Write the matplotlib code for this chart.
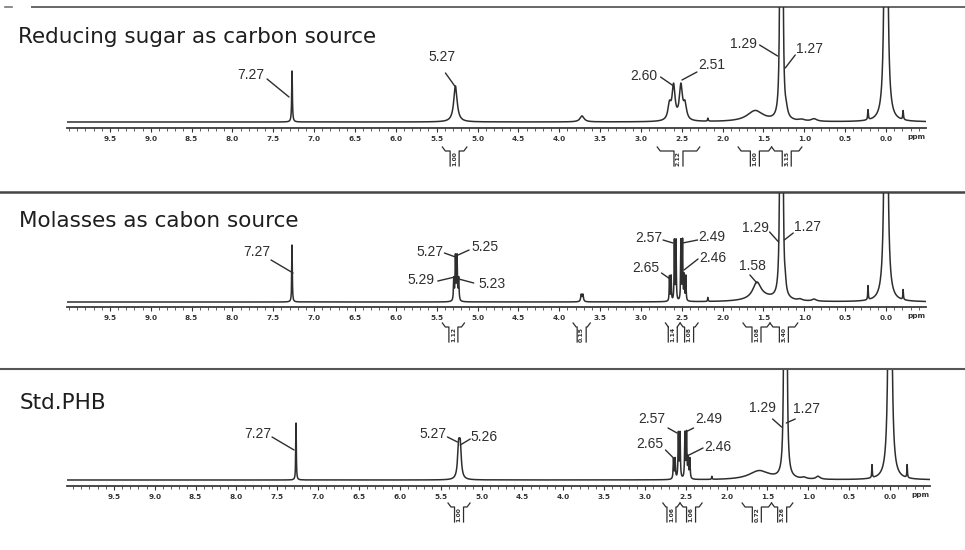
import numpy as np
import matplotlib
matplotlib.use("Agg")
import matplotlib.pyplot as plt
from matplotlib.transforms import offset_copy

# ------------------------------------------------------------------ data
titles = ["Reducing sugar as carbon source", "Molasses as cabon source", "Std.PHB"]

# peak tables: position (ppm), height (px above baseline), half width (ppm)
p1_ppm = [7.27, 5.27, 3.72, 2.65, 2.60, 2.51, 2.46, 2.18, 1.60, 1.29, 1.27, 1.22, 1.03, 0.88, 0.22, 0.00, -0.21]
p1_h = [51, 36, 6, 15, 34, 34, 15, 3, 11, 900, 900, 6, 1.5, 2.5, 10, 1500, 9]
p1_w = [0.005, 0.025, 0.03, 0.022, 0.022, 0.022, 0.022, 0.005, 0.12, 0.005, 0.005, 0.02, 0.04, 0.04, 0.005, 0.0085, 0.005]

p2_ppm = [7.27, 5.29, 5.27, 5.25, 5.23, 3.73, 3.71, 2.65, 2.63, 2.59, 2.57, 2.51, 2.49, 2.47, 2.45,
          2.18, 1.58, 1.50, 1.29, 1.27, 1.23, 1.05, 0.88, 0.22, 0.00, -0.21]
p2_h = [57, 22, 44, 44, 22, 7, 7, 25, 25, 60, 60, 60, 60, 25, 25,
        4, 16, 4, 900, 900, 6, 1.5, 2, 14, 1500, 10]
p2_w = [0.004, 0.005, 0.005, 0.005, 0.005, 0.008, 0.008, 0.004, 0.004, 0.004, 0.004, 0.004, 0.004, 0.004, 0.004,
        0.004, 0.06, 0.2, 0.005, 0.005, 0.01, 0.03, 0.03, 0.004, 0.0085, 0.004]

p3_ppm = [7.27, 5.28, 5.26, 2.65, 2.63, 2.59, 2.57, 2.51, 2.49, 2.47, 2.45, 2.18, 1.60, 1.29, 1.27,
          1.05, 0.88, 0.22, 0.00, -0.21]
p3_h = [57, 30, 30, 20, 20, 45, 45, 45, 45, 20, 20, 3, 9, 900, 900, 1.5, 3, 13, 1500, 13]
p3_w = [0.004, 0.015, 0.015, 0.005, 0.005, 0.005, 0.005, 0.005, 0.005, 0.005, 0.005, 0.004, 0.15, 0.005, 0.005,
        0.03, 0.03, 0.004, 0.0085, 0.004]

# peak labels
p1_labels = ["7.27", "5.27", "2.60", "2.51", "1.29", "1.27"]
p2_labels = ["7.27", "5.27", "5.25", "5.29", "5.23", "2.57", "2.49", "2.65", "2.46", "1.58", "1.29", "1.27"]
p3_labels = ["7.27", "5.27", "5.26", "2.57", "2.49", "2.65", "2.46", "1.29", "1.27"]

# integration regions
p1_int_from = [5.43, 2.80, 1.81, 1.40]
p1_int_to = [5.13, 2.28, 1.40, 1.03]
p1_int_val = ["1.00", "2.12", "1.00", "3.15"]

p2_int_from = [5.43, 3.83, 2.70, 2.52, 1.75, 1.42]
p2_int_to = [5.16, 3.62, 2.52, 2.30, 1.42, 1.08]
p2_int_val = ["1.12", "0.15", "1.14", "1.08", "1.08", "3.40"]

p3_int_from = [5.41, 2.78, 2.57, 1.81, 1.45]
p3_int_to = [5.14, 2.57, 2.30, 1.45, 1.19]
p3_int_val = ["1.00", "1.06", "1.06", "0.72", "3.26"]

major_ticks = [9.5, 9.0, 8.5, 8.0, 7.5, 7.0, 6.5, 6.0, 5.5, 5.0, 4.5, 4.0, 3.5, 3.0, 2.5, 2.0, 1.5, 1.0, 0.5, 0.0]
tick_labels = ["%.1f" % t for t in major_ticks]

# ------------------------------------------------------------------ layout (pixels)
W, H = 965, 550
panels = [
    dict(peaks=(p1_ppm, p1_h, p1_w), labels=p1_labels,
         ints=(p1_int_from, p1_int_to, p1_int_val),
         top=7, axis=128, x0=886, xl=67, xr=926, base=6, btop=-19,
         title_xy=(18, 43),
         # per label: tip nudge px, tip y, leader start (dx,dy), text (dx,dy), ha
         ann=[(-3, 31, (-22, 18), (-25, 22), "right"),
              (0, 41, (-10, 14), (-13, 30), "center"),
              (0, 42, (-13, 9), (-16, 10), "right"),
              (1, 48, (15, 8), (16, 15), "left"),
              (-3, 72, (-18, 11), (-21, 12), "right"),
              (3, 60, (10, 13), (11, 19), "left")]),
    dict(peaks=(p2_ppm, p2_h, p2_w), labels=p2_labels,
         ints=(p2_int_from, p2_int_to, p2_int_val),
         top=193, axis=307, x0=886, xl=67, xr=926, base=5, btop=-16,
         title_xy=(19, 227),
         ann=[(1, 34, (-22, 13), (-23, 21), "right"),
              (0, 50, (-11, 4), (-12, 5), "right"),
              (1, 52, (11, 5), (13, 8), "left"),
              (1, 30, (-17, -4), (-20, -3), "right"),
              (0, 28, (15, -4), (20, -5), "left"),
              (-3, 64, (-10, 3), (-11, 5), "right"),
              (0, 64, (15, 3), (16, 6), "left"),
              (2, 27, (-10, 7), (-12, 12), "right"),
              (-1, 37, (14, 11), (15, 12), "left"),
              (0, 24, (-7, 8), (-4, 17), "center"),
              (-2, 65, (-9, 10), (-10, 14), "right"),
              (2, 67, (9, 7), (10, 13), "left")]),
    dict(peaks=(p3_ppm, p3_h, p3_w), labels=p3_labels,
         ints=(p3_int_from, p3_int_to, p3_int_val),
         top=370, axis=486, x0=890, xl=67, xr=930, base=6, btop=-17,
         title_xy=(20, 409),
         ann=[(-2, 36, (-22, 13), (-23, 16), "right"),
              (-2, 44, (-10, 5), (-11, 8), "right"),
              (0, 41, (10, 6), (10, 8), "left"),
              (-3, 53, (-9, 5), (-12, 14), "right"),
              (-1, 54, (8, 4), (10, 13), "left"),
              (0, 28, (-8, 8), (-10, 14), "right"),
              (0, 31, (14, 7), (15, 8), "left"),
              (-3, 59, (-9, 8), (-6, 19), "right"),
              (0, 63, (9, 4), (7, 14), "left")]),
]
SCALE = 81.7
INK = "#2e2e2e"

fig = plt.figure(figsize=(W / 100, H / 100), dpi=100)
fig.patch.set_facecolor("white")

bg = fig.add_axes([0, 0, 1, 1], zorder=-1)
bg.set_xlim(0, W)
bg.set_ylim(H, 0)
bg.axis("off")
# panel separators
bg.plot([32, W], [7, 7], color="#666666", lw=1.4)
bg.plot([5, 12], [7, 7], color="#777777", lw=1.2)
bg.plot([0, W], [192, 192], color="#444444", lw=1.8)
bg.plot([0, W], [369, 369], color="#555555", lw=1.5)

xs = np.linspace(-0.6, 10.2, 14000)

for pan, title in zip(panels, titles):
    ppm, hh, ww = pan["peaks"]
    x0 = pan["x0"]
    left_ppm = (x0 - pan["xl"]) / SCALE
    right_ppm = (x0 - pan["xr"]) / SCALE
    hgt = pan["axis"] - pan["top"]
    ax = fig.add_axes([pan["xl"] / W, 1 - pan["axis"] / H, (pan["xr"] - pan["xl"]) / W, hgt / H])
    ax.set_xlim(left_ppm, right_ppm)
    ax.set_ylim(0, hgt)
    ax.patch.set_alpha(0)

    spec = np.zeros_like(xs)
    for p, h, w in zip(ppm, hh, ww):
        spec += h * w ** 2 / ((xs - p) ** 2 + w ** 2)
    ax.plot(xs, spec + pan["base"], color=INK, lw=1.1, solid_joinstyle="round")

    for s in ["top", "left", "right"]:
        ax.spines[s].set_visible(False)
    ax.spines["bottom"].set_color("#3a3a3a")
    ax.spines["bottom"].set_linewidth(1.3)
    ax.set_yticks([])
    ax.set_xticks(major_ticks, labels=tick_labels, fontsize=5.3, fontweight="bold", color="#333333")
    ax.set_xticks(np.round(np.arange(10.0, -0.45, -0.1), 2), minor=True)
    ax.tick_params(axis="x", which="major", direction="out", length=3, width=0.8, pad=2.5, color="#333333")
    ax.tick_params(axis="x", which="minor", direction="out", length=1.8, width=0.6, color="#444444")
    ax.text(right_ppm + 0.12, -9, "ppm", fontsize=5.3, fontweight="bold", color="#333333",
            ha="center", va="center")

    # title
    bg.text(pan["title_xy"][0], pan["title_xy"][1], title, fontsize=15.5, family="DejaVu Sans",
            color="#1e1e1e", va="baseline", ha="left")

    # peak labels with leader lines
    for lab, (nud, ty, (lx, ly), (tx, tyy), ha) in zip(pan["labels"], pan["ann"]):
        tr = offset_copy(ax.transData, fig=fig, x=nud, y=0, units="dots")
        pv = float(lab)
        ax.annotate("", xy=(pv, ty), xycoords=tr, xytext=(lx, ly), textcoords="offset pixels",
                    arrowprops=dict(arrowstyle="-", lw=1.0, color=INK, shrinkA=0, shrinkB=0),
                    annotation_clip=False)
        ax.annotate(lab, xy=(pv, ty), xycoords=tr, xytext=(tx, tyy), textcoords="offset pixels",
                    ha=ha, va="center", fontsize=10, family="Liberation Sans", color=INK,
                    annotation_clip=False)

    # integration brackets
    fr, to, vals = pan["ints"]
    bt = pan["btop"]
    bw = 4.5 / SCALE
    dg = 3.0 / SCALE
    for a, b, v in zip(fr, to, vals):
        c = (a + b) / 2
        ax.plot([a, a - dg, c + bw, c + bw], [bt, bt - 4, bt - 4, bt - 19], color=INK, lw=0.9,
                clip_on=False)
        ax.plot([c - bw, c - bw, b + dg, b], [bt - 19, bt - 4, bt - 4, bt], color=INK, lw=0.9,
                clip_on=False)
        ax.text(c, bt - 11.5, v, rotation=90, fontsize=4.3, fontweight="bold", color=INK,
                ha="center", va="center")

fig.savefig("out.png", dpi=100, facecolor="white")
